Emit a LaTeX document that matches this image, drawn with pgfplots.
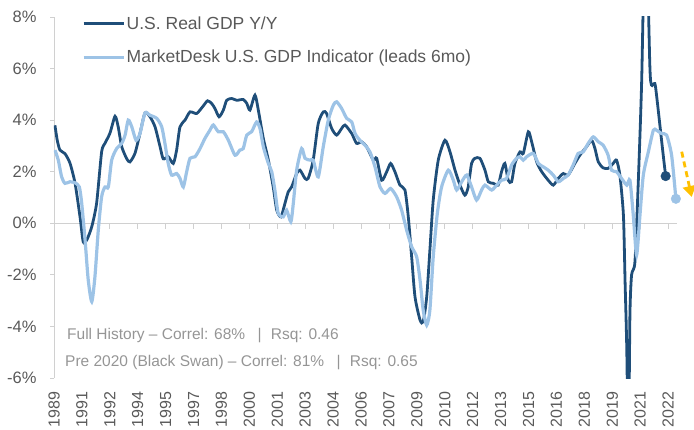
\documentclass[border=0pt]{standalone}
\usepackage{pgfplots}
\pgfplotsset{compat=1.18}
\usetikzlibrary{arrows.meta}
\usepackage{fontspec}
\setmainfont{Liberation Sans}
\definecolor{navy}{HTML}{1F4E79}
\definecolor{lblue}{HTML}{9DC3E6}
\definecolor{axgray}{HTML}{D0D0D0}
\definecolor{txtgray}{HTML}{595959}
\definecolor{anngray}{HTML}{959595}
\definecolor{arrowc}{HTML}{FFC000}
\begin{document}
\begin{tikzpicture}
\path[use as bounding box] (-54pt,-51pt) rectangle (640pt,378pt);
\begin{axis}[
  at={(0pt,0pt)}, anchor=south west,
  scale only axis, width=623pt, height=361pt,
  xmin=1989.67, xmax=2023.15, ymin=-6, ymax=8,
  axis x line=bottom, axis y line=left,
  x axis line style={draw=none},
  y axis line style={draw=axgray, line width=0.8pt, -},
  xtick={1989.67,1991.17,1992.67,1994.17,1995.67,1997.17,1998.67,2000.17,2001.67,2003.17,2004.67,2006.17,2007.67,2009.17,2010.67,2012.17,2013.67,2015.17,2016.67,2018.17,2019.67,2021.17,2022.67},
  xticklabels={1989,1991,1992,1994,1995,1997,1998,2000,2001,2003,2004,2006,2007,2009,2010,2012,2013,2015,2016,2018,2019,2021,2022},
  xtick style={draw=none},
  xticklabel style={yshift=-6pt, rotate=90, anchor=east, font=\fontsize{16}{16}\selectfont, text=txtgray},
  ytick={-6,-4,-2,0,2,4,6,8},
  yticklabels={-6\%,-4\%,-2\%,0\%,2\%,4\%,6\%,8\%},
  ytick style={draw=axgray, line width=0.8pt},
  tick align=outside, major tick length=4pt,
  yticklabel style={xshift=-10pt, font=\fontsize{16.5}{16.5}\selectfont, text=txtgray},
  legend style={at={(axis description cs:0.045,1.005)}, anchor=north west, draw=none, fill=none,
    inner sep=0pt, font=\fontsize{17.5}{17.5}\selectfont, text=txtgray, row sep=16pt,
    nodes={inner sep=1.5pt}},
  legend cell align=left,
  legend image code/.code={\draw[#1, line width=3pt] (0pt,0pt) -- (40pt,0pt);},
]
\draw[axgray, line width=0.8pt] (axis cs:1989.67,0) -- (axis cs:2023.15,0);
\pgfplotsinvokeforeach{0,...,22}{\draw[axgray, line width=0.8pt] (axis cs:{1989.67+1.5*#1},0) -- ++(0pt,-6pt);}
\addplot[navy, line width=2.8pt, smooth, tension=0.4] coordinates {
(1989.72,3.80)(1989.85,3.20)(1989.99,2.84)(1990.26,2.70)(1990.53,2.33)(1990.80,1.56)(1991.07,0.24)(1991.24,-0.72)(1991.43,-0.65)(1991.70,-0.13)(1991.96,0.78)(1992.23,2.77)(1992.41,3.10)(1992.68,3.50)(1992.95,4.15)(1993.12,3.74)(1993.31,2.97)(1993.58,2.50)(1993.75,2.38)(1994.02,2.71)(1994.29,3.48)(1994.56,4.28)(1994.83,4.13)(1995.10,3.74)(1995.37,2.97)(1995.54,2.50)(1995.81,2.58)(1996.08,2.32)(1996.26,2.84)(1996.44,3.74)(1996.71,4.00)(1996.98,4.32)(1997.34,4.26)(1997.69,4.55)(1997.92,4.75)(1998.14,4.65)(1998.32,4.45)(1998.54,4.13)(1998.77,4.39)(1998.95,4.77)(1999.22,4.84)(1999.49,4.77)(1999.84,4.80)(2000.03,4.65)(2000.20,4.39)(2000.47,4.97)(2000.65,4.39)(2000.92,3.29)(2001.19,2.45)(2001.45,1.41)(2001.64,0.51)(2001.87,0.25)(2002.08,0.77)(2002.26,1.22)(2002.44,1.41)(2002.71,1.93)(2002.89,2.06)(2003.16,1.74)(2003.33,1.74)(2003.60,2.45)(2003.87,3.87)(2004.14,4.32)(2004.32,4.26)(2004.59,3.68)(2004.86,3.42)(2005.13,3.68)(2005.31,3.81)(2005.67,3.48)(2005.93,3.10)(2006.20,3.16)(2006.47,2.97)(2006.83,2.45)(2007.01,2.52)(2007.28,1.67)(2007.55,2.00)(2007.76,2.32)(2007.99,2.00)(2008.26,1.48)(2008.53,1.29)(2008.71,0.25)(2008.89,-1.30)(2009.07,-2.85)(2009.34,-3.75)(2009.51,-3.82)(2009.70,-2.85)(2009.87,-1.04)(2010.05,0.90)(2010.32,2.45)(2010.68,3.22)(2010.95,2.77)(2011.22,2.06)(2011.49,1.48)(2011.75,1.09)(2011.93,1.41)(2012.11,2.32)(2012.29,2.52)(2012.56,2.52)(2012.83,2.06)(2013.01,1.61)(2013.28,1.55)(2013.54,1.48)(2013.72,2.00)(2013.90,2.32)(2014.08,1.67)(2014.26,1.61)(2014.44,2.32)(2014.71,2.77)(2014.89,2.71)(2015.16,3.55)(2015.34,3.16)(2015.61,2.38)(2015.88,2.00)(2016.23,1.67)(2016.50,1.48)(2016.77,1.74)(2017.04,1.93)(2017.30,1.87)(2017.66,2.32)(2017.93,2.64)(2018.29,2.97)(2018.56,3.22)(2018.74,2.90)(2018.92,2.38)(2019.18,2.15)(2019.45,2.13)(2019.72,2.32)(2019.90,2.45)(2020.08,1.87)(2020.27,0.32)(2020.36,-2.27)(2020.45,-4.84)(2020.54,-9.00)(2020.62,-3.56)(2020.71,-2.00)(2020.89,-1.49)(2021.07,1.61)(2021.25,5.48)(2021.46,12.20)(2021.69,6.13)(2021.78,5.36)(2021.96,5.42)(2022.05,4.97)(2022.23,3.81)(2022.41,2.64)(2022.54,1.83)
};
\addlegendentry{U.S. Real GDP Y/Y}
\addplot[lblue, line width=3.2pt, smooth, tension=0.4] coordinates {
(1989.72,2.84)(1989.90,2.45)(1990.08,1.80)(1990.26,1.55)(1990.53,1.61)(1990.80,1.57)(1991.03,1.41)(1991.16,0.77)(1991.34,-0.65)(1991.51,-2.20)(1991.70,-3.04)(1991.87,-2.07)(1992.05,-0.26)(1992.23,1.03)(1992.41,1.41)(1992.59,1.41)(1992.77,2.45)(1993.04,2.90)(1993.31,3.10)(1993.49,3.42)(1993.66,4.00)(1993.85,3.74)(1994.08,3.22)(1994.29,3.48)(1994.56,4.28)(1994.83,4.19)(1995.19,4.07)(1995.46,3.74)(1995.63,3.10)(1995.81,2.32)(1995.99,1.87)(1996.26,1.93)(1996.44,1.74)(1996.62,1.41)(1996.80,2.00)(1996.98,2.52)(1997.25,2.58)(1997.52,2.90)(1997.78,3.29)(1998.05,3.61)(1998.23,3.81)(1998.50,3.55)(1998.77,3.55)(1999.04,3.22)(1999.40,2.64)(1999.66,2.84)(1999.84,2.90)(2000.03,3.42)(2000.29,3.55)(2000.56,3.93)(2000.74,3.68)(2000.92,2.97)(2001.19,2.32)(2001.37,2.00)(2001.54,1.29)(2001.72,0.38)(2001.99,0.25)(2002.17,0.51)(2002.40,0.06)(2002.53,0.77)(2002.71,2.06)(2002.98,2.90)(2003.16,2.52)(2003.43,2.45)(2003.60,2.45)(2003.87,1.80)(2004.14,2.97)(2004.41,4.00)(2004.68,4.58)(2004.86,4.71)(2005.13,4.45)(2005.40,4.07)(2005.67,3.93)(2005.85,3.48)(2006.11,3.22)(2006.38,3.03)(2006.65,2.77)(2006.92,2.19)(2007.19,1.41)(2007.46,1.16)(2007.76,1.35)(2008.08,1.03)(2008.35,0.51)(2008.62,-0.26)(2008.89,-0.91)(2009.16,-1.30)(2009.34,-2.20)(2009.51,-3.36)(2009.70,-3.95)(2009.87,-3.36)(2010.05,-1.30)(2010.27,0.38)(2010.50,1.41)(2010.86,2.06)(2011.13,1.67)(2011.31,1.29)(2011.58,1.61)(2011.85,1.87)(2012.11,1.41)(2012.38,0.90)(2012.65,1.29)(2012.83,1.48)(2013.19,1.29)(2013.46,1.48)(2013.72,1.67)(2013.99,1.74)(2014.26,2.26)(2014.53,2.52)(2014.71,2.58)(2014.89,2.45)(2015.07,2.58)(2015.43,2.71)(2015.70,2.32)(2015.96,2.19)(2016.23,2.06)(2016.50,1.87)(2016.77,1.61)(2017.04,1.74)(2017.30,1.87)(2017.57,2.26)(2017.84,2.71)(2018.11,2.77)(2018.38,3.10)(2018.65,3.35)(2018.92,3.16)(2019.18,3.03)(2019.45,2.64)(2019.63,2.06)(2019.90,2.00)(2020.17,1.74)(2020.45,1.48)(2020.62,1.67)(2020.80,0.32)(2020.98,-1.23)(2021.16,0.32)(2021.34,1.87)(2021.61,2.77)(2021.88,3.61)(2022.05,3.61)(2022.32,3.48)(2022.59,3.42)(2022.86,2.64)(2023.09,0.95)
};
\addlegendentry{MarketDesk U.S. GDP Indicator (leads 6mo)}
\addplot[only marks, mark=*, mark size=4.8pt, navy, forget plot] coordinates {(2022.54,1.83)};
\addplot[only marks, mark=*, mark size=4.8pt, lblue, forget plot] coordinates {(2023.09,0.95)};
\end{axis}
\node[anchor=west, text=anngray, font=\fontsize{15.5}{15.5}\selectfont, inner sep=0pt] at (13pt,42pt) {Full History -- Correl: 68\%\hspace{0.8em}|\hspace{0.6em}Rsq: 0.46};
\node[anchor=west, text=anngray, font=\fontsize{15.5}{15.5}\selectfont, inner sep=0pt] at (11pt,15pt) {Pre 2020 (Black Swan) -- Correl: 81\%\hspace{0.8em}|\hspace{0.6em}Rsq: 0.65};
\draw[arrowc, line width=2.8pt, dash pattern=on 6pt off 4pt, -{Triangle[length=11pt,width=13pt]}] (627.7pt,226.3pt) -- (637.7pt,181pt);
\end{tikzpicture}
\end{document}
